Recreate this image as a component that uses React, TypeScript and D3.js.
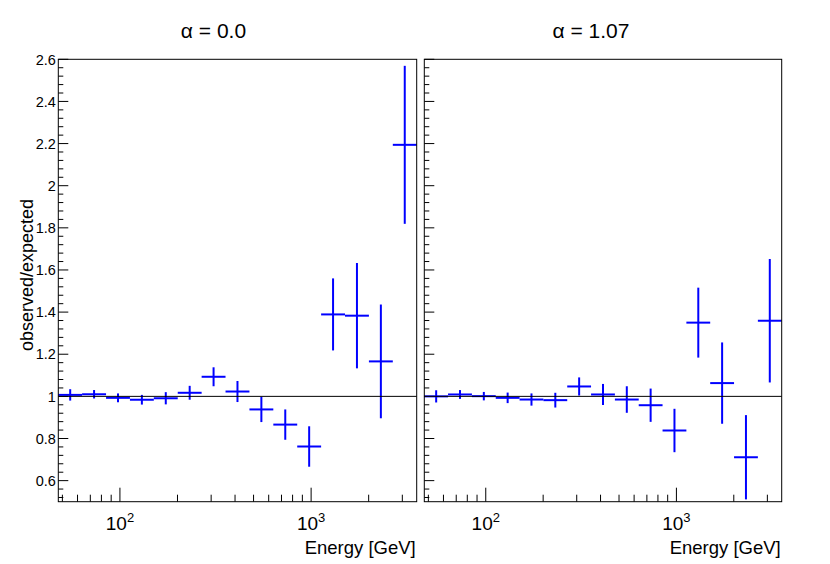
import React from 'react';
import * as d3 from 'd3';

// energy bin edges [GeV], 15 log-spaced bins
const binEdges = [47.6, 63.4, 84.6, 112.8, 150.4, 200.6, 267.5, 356.7, 475.7, 634.3, 845.9, 1128, 1504, 2006, 2675, 3567];

// observed/expected ratios and errors per bin
const ratioAlpha0 = [1.007, 1.010, 0.993, 0.984, 0.991, 1.017, 1.093, 1.023, 0.938, 0.866, 0.762, 1.389, 1.383, 1.166, 2.194];
const errAlpha0 = [0.027, 0.020, 0.021, 0.023, 0.029, 0.033, 0.045, 0.050, 0.060, 0.072, 0.096, 0.171, 0.250, 0.270, 0.375];
const ratioAlpha107 = [1.000, 1.009, 1.001, 0.993, 0.985, 0.982, 1.047, 1.009, 0.985, 0.958, 0.838, 1.350, 1.063, 0.711, 1.359];
const errAlpha107 = [0.029, 0.021, 0.020, 0.025, 0.029, 0.035, 0.043, 0.050, 0.063, 0.079, 0.103, 0.166, 0.193, 0.200, 0.293];

const panelTitles = ['α = 0.0', 'α = 1.07'];
const yMajorTicks = [0.6, 0.8, 1.0, 1.2, 1.4, 1.6, 1.8, 2.0, 2.2, 2.4, 2.6];
const yDomain: [number, number] = [0.5, 2.6];

const W = 830;
const H = 564;
const top = 59.3;
const bottom = 501.7;
const font = '"Liberation Sans", Arial, Helvetica, sans-serif';

interface PanelProps {
  left: number;
  right: number;
  values: number[];
  errors: number[];
  title: string;
  titleX: number;
  showYLabels: boolean;
}

const isDecade = (v: number) => Math.abs(Math.log10(v) - Math.round(Math.log10(v))) < 1e-9;

const Panel: React.FC<PanelProps> = ({ left, right, values, errors, title, titleX, showYLabels }) => {
  const x = d3.scaleLog().domain([binEdges[0], binEdges[binEdges.length - 1]]).range([left, right]);
  const y = d3.scaleLinear().domain(yDomain).range([bottom, top]);

  const xTicks = x.ticks();
  const yMinor = d3.range(0.52, 2.6, 0.04).filter(v => !yMajorTicks.some(m => Math.abs(m - v) < 1e-6));
  const fmt = d3.format('~g');

  return (
    <g>
      {/* y ticks, drawn inward */}
      {yMajorTicks.map(v => (
        <line key={'ym' + v} x1={left} x2={left + 10} y1={y(v)} y2={y(v)} stroke="#000" strokeWidth={1} />
      ))}
      {yMinor.map(v => (
        <line key={'yn' + v.toFixed(2)} x1={left} x2={left + 5} y1={y(v)} y2={y(v)} stroke="#000" strokeWidth={1} />
      ))}
      {showYLabels && yMajorTicks.map(v => (
        <text key={'yl' + v} x={left - 2.5} y={y(v)} dy="0.36em" textAnchor="end" fontSize={14.5} fontFamily={font}>
          {fmt(v)}
        </text>
      ))}

      {/* x ticks */}
      {xTicks.map(v => (
        <line key={'xt' + v} x1={x(v)} x2={x(v)} y1={bottom} y2={bottom - (isDecade(v) ? 14 : 7)} stroke="#000" strokeWidth={1} />
      ))}
      {xTicks.filter(isDecade).map(v => (
        <text key={'xl' + v} x={x(v)} y={530} textAnchor="middle" fontSize={19} fontFamily={font}>
          10<tspan fontSize={13} dy={-8.5}>{Math.round(Math.log10(v))}</tspan>
        </text>
      ))}

      {/* error bars */}
      {values.map((v, i) => {
        const x0 = x(binEdges[i]);
        const x1 = x(binEdges[i + 1]);
        const xc = x(Math.sqrt(binEdges[i] * binEdges[i + 1]));
        return (
          <g key={'p' + i} stroke="#0000ff" strokeWidth={2}>
            <line x1={x0} x2={x1} y1={y(v)} y2={y(v)} />
            <line x1={xc} x2={xc} y1={y(v - errors[i])} y2={y(v + errors[i])} />
          </g>
        );
      })}

      {/* reference line at 1 */}
      <line x1={left} x2={right} y1={y(1)} y2={y(1)} stroke="#000" strokeWidth={1} />

      {/* frame */}
      <rect x={left} y={top} width={right - left} height={bottom - top} fill="none" stroke="#000" strokeWidth={1} />

      <text x={right - 1} y={554} textAnchor="end" fontSize={18.5} fontFamily={font}>Energy [GeV]</text>
      <text x={titleX} y={38} textAnchor="middle" fontSize={21} fontFamily={font}>{title}</text>
    </g>
  );
};

export default function App() {
  return (
    <svg width={W} height={H} style={{ position: 'absolute', left: 0, top: 0, background: '#fff' }}>
      <rect x={0} y={0} width={W} height={H} fill="#fff" />
      <Panel left={58.3} right={416.7} values={ratioAlpha0} errors={errAlpha0} title={panelTitles[0]} titleX={213.5} showYLabels />
      <Panel left={424.3} right={781.7} values={ratioAlpha107} errors={errAlpha107} title={panelTitles[1]} titleX={591} showYLabels={false} />
      <text transform="translate(33,199) rotate(-90)" textAnchor="end" fontSize={18} fontFamily={font}>
        observed/expected
      </text>
    </svg>
  );
}
